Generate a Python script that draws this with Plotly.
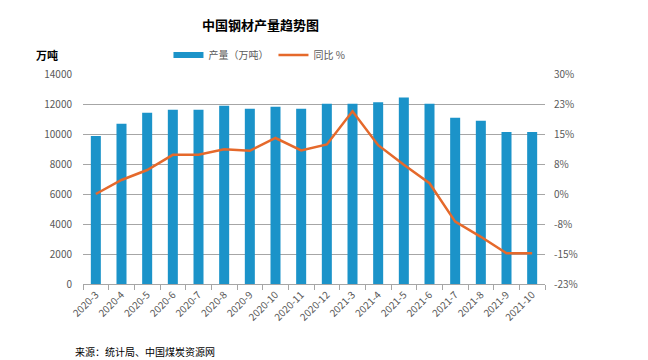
import plotly.graph_objects as go

categories = ["2020-3", "2020-4", "2020-5", "2020-6", "2020-7", "2020-8", "2020-9",
              "2020-10", "2020-11", "2020-12", "2021-3", "2021-4", "2021-5", "2021-6",
              "2021-7", "2021-8", "2021-9", "2021-10"]
output_wt = [9870, 10690, 11420, 11620, 11620, 11890, 11690, 11820, 11690, 12020,
             12020, 12110, 12440, 12020, 11090, 10890, 10130, 10130]
yoy_pct = [0.0, 3.5, 6.0, 9.8, 9.8, 11.2, 10.8, 14.0, 10.9, 12.4, 20.7, 12.2, 7.3,
           2.7, -6.9, -10.7, -14.8, -14.8]
left_ticks = [0, 2000, 4000, 6000, 8000, 10000, 12000, 14000]
right_ticks = [-22.5, -15, -7.5, 0, 7.5, 15, 22.5, 30]
right_labels = ["-23%", "-15%", "-8%", "0%", "8%", "15%", "23%", "30%"]

FONT = "Noto Sans CJK SC"
BLUE = "#1b93c9"
ORANGE = "#e5692b"
GRAY = "#595959"

fig = go.Figure()
fig.add_trace(go.Bar(x=categories, y=output_wt, name="产量（万吨）", showlegend=False,
                     marker=dict(color=BLUE, line=dict(width=0)), yaxis="y"))
# legend swatch for the bars (thick rectangle like the reference)
fig.add_trace(go.Scatter(x=[None], y=[None], name="产量（万吨）", mode="lines",
                         line=dict(color=BLUE, width=6), yaxis="y"))
fig.add_trace(go.Scatter(x=categories, y=yoy_pct, name="同比 %", mode="lines",
                         line=dict(color=ORANGE, width=2.5), yaxis="y2"))

fig.update_layout(
    width=648, height=360,
    margin=dict(l=83, r=103, t=74, b=76, autoexpand=False),
    paper_bgcolor="white", plot_bgcolor="white",
    font=dict(family=FONT, size=10, color=GRAY),
    bargap=0.61,
    showlegend=True,
    legend=dict(orientation="h", x=0.185, y=1.09, xanchor="left", yanchor="middle",
                font=dict(family=FONT, size=10, color=GRAY), bgcolor="rgba(0,0,0,0)",
                itemwidth=30, tracegroupgap=0),
    xaxis=dict(type="category", showgrid=False, showline=True, linecolor="#a6a6a6",
               linewidth=1, ticks="outside", tickcolor="#a6a6a6", ticklen=5,
               tickson="boundaries", tickangle=-45, automargin=False,
               tickfont=dict(family=FONT, size=10, color=GRAY)),
    yaxis=dict(range=[0, 14000], tickvals=left_ticks, tickformat="d", showgrid=True,
               gridcolor="#a6a6a6", gridwidth=1, zeroline=False, showline=False,
               tickfont=dict(family=FONT, size=10, color=GRAY), ticks="",
               ticklabelstandoff=10, automargin=False),
    yaxis2=dict(range=[-22.5, 30], tickvals=right_ticks, ticktext=right_labels,
                overlaying="y", side="right", showgrid=False, zeroline=False,
                showline=False, tickfont=dict(family=FONT, size=10, color=GRAY),
                ticklabelstandoff=8, automargin=False),
)

fig.add_annotation(text="<b>中国钢材产量趋势图</b>", xref="paper", yref="paper",
                   x=(260 - 83) / 462, y=(284 - 25) / 210, xanchor="center",
                   yanchor="middle", showarrow=False,
                   font=dict(family=FONT, size=13, color="#000000"))
fig.add_annotation(text="<b>万吨</b>", xref="paper", yref="paper",
                   x=(34 - 83) / 462, y=(284 - 55) / 210, xanchor="left",
                   yanchor="middle", showarrow=False,
                   font=dict(family=FONT, size=11, color="#000000"))
fig.add_annotation(text="来源：统计局、中国煤炭资源网", xref="paper", yref="paper",
                   x=(73 - 83) / 462, y=(284 - 351) / 210, xanchor="left",
                   yanchor="middle", showarrow=False,
                   font=dict(family=FONT, size=10, color="#000000"))

fig.write_html("out.html", config={"displayModeBar": False},
               post_script="document.body.style.margin='0';")
